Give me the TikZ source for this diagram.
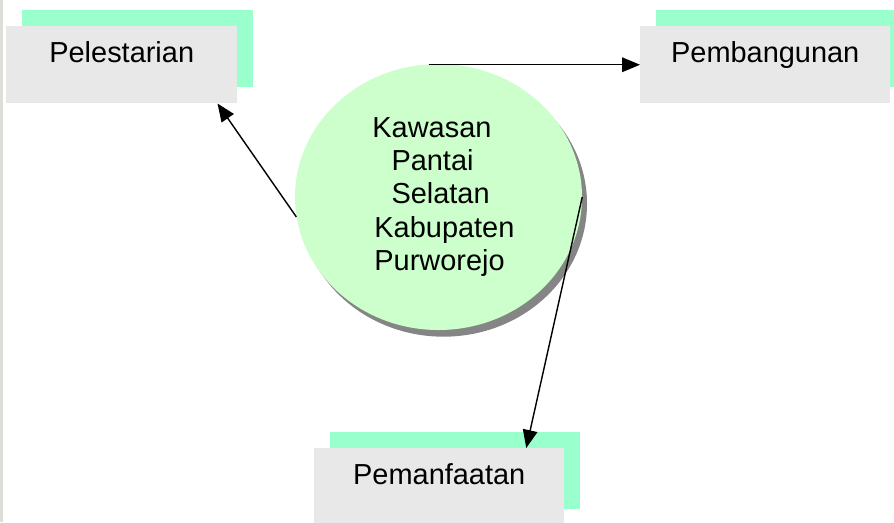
\documentclass[tikz,border=0pt]{standalone}
\usepackage{fontspec}
\setmainfont{Liberation Sans}
\usetikzlibrary{shapes.geometric,shadows,arrows.meta,calc}
\definecolor{boxgray}{HTML}{E8E8E8}
\definecolor{backgreen}{HTML}{99FFCC}
\definecolor{circgreen}{HTML}{CCFFCC}
\definecolor{shadowgray}{HTML}{858585}
\definecolor{stripgray}{HTML}{DEDED9}
\begin{document}
\begin{tikzpicture}[x=0.03cm,y=-0.03cm,
        every node/.style={font=\fontsize{24.7}{28.4}\selectfont},
        kotak/.style={fill=boxgray,inner sep=0pt,text height=1.08cm,text depth=1.23cm,
            minimum width=7.5cm,anchor=north west,
            general shadow={fill=backgreen,shadow xshift=0.48cm,shadow yshift=0.48cm}},
        panah/.style={line width=1.2pt,-{Triangle[length=0.54cm,width=0.44cm]}}]
    \useasboundingbox (0,0) rectangle (894,522);
    \fill[stripgray] (0,0) rectangle (3,522);
    \node[kotak,minimum width=6.93cm] (pel) at (6,26) {Pelestarian};
    \node[kotak] (pemb) at (640,26) {Pembangunan};
    \node[kotak] (pemf) at (314,448) {Pemanfaatan};
    \node[ellipse,fill=circgreen,minimum width=8.61cm,minimum height=7.98cm,inner sep=0pt,align=left,
        drop shadow={fill=shadowgray,opacity=1,shadow xshift=0.15cm,shadow yshift=-0.2cm}] (kps) at (438.5,197)
        {\hspace*{0.34em}Kawasan\\\hspace*{1em}Pantai\\\hspace*{1em}Selatan\\\hspace*{0.41em}Kabupaten\\\hspace*{0.41em}Purworejo};
    \draw[panah] (kps.188) -- ($(pel.south east)+(-20,0)$);
    \draw[panah] ($(pemb.west -| kps.north)+(-10,0)$) -- (pemb.west);
    \draw[panah] (kps.east) -- ($(pemf.north)+(87,0)$);
\end{tikzpicture}
\end{document}
